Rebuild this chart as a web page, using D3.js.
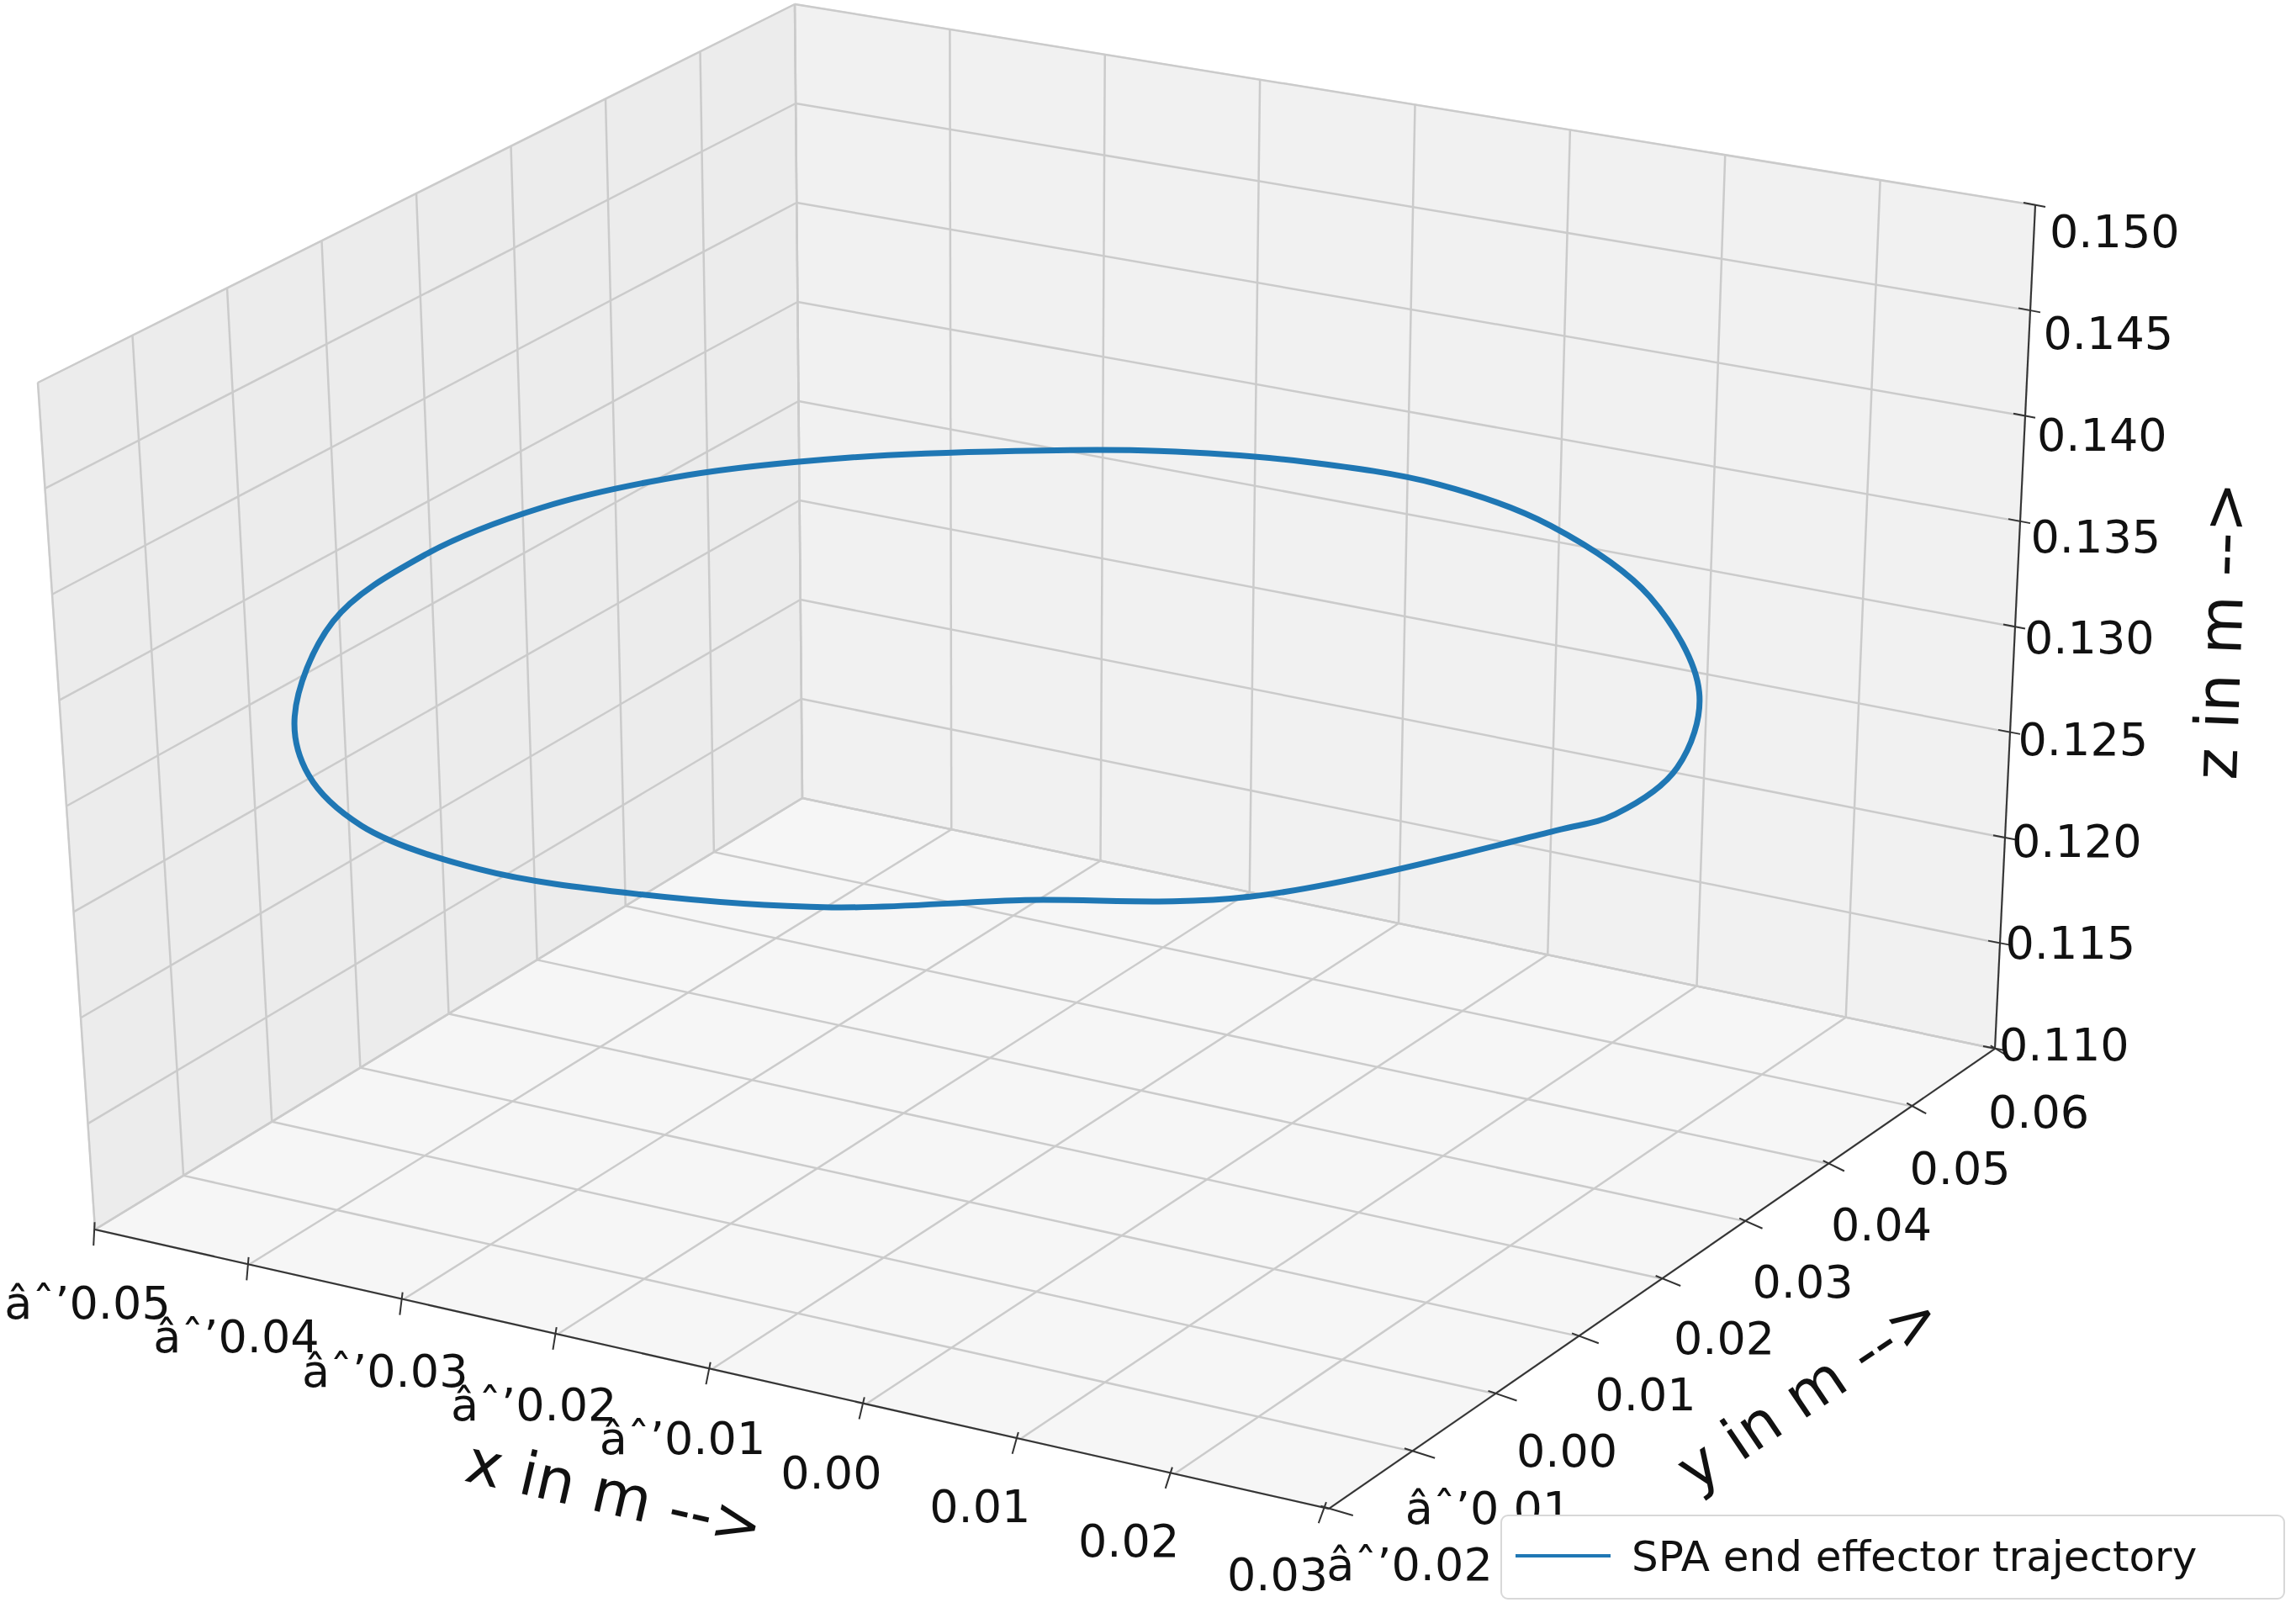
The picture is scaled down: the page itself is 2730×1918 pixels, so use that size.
<html>
  <head>
    <script src="https://d3js.org/d3.v7.min.js"></script>
    <style>
      body { margin: 0; background: white; }
      text { font-family: "DejaVu Sans", sans-serif; fill: #111; }
    </style>
  </head>
  <body>
    <script type="text/javascript">
      // trajectory samples (metres), z roughly constant
      var trajX = [-0.0469, -0.0532, -0.0546, -0.0531, -0.0489, -0.0427, -0.0349, -0.0278, -0.0195, -0.0109,
                   -0.0018, 0.0091, 0.0193, 0.0242, 0.0248, 0.0232, 0.0134, 0.0026, -0.0058, -0.0159,
                   -0.0255, -0.0346, -0.0413, -0.0469];
      var trajY = [-0.0004, 0.0146, 0.0269, 0.0372, 0.0460, 0.0529, 0.0586, 0.0625, 0.0649, 0.0652,
                   0.0622, 0.0545, 0.0420, 0.0305, 0.0221, 0.0182, 0.0001, -0.0068, -0.0131, -0.0166,
                   -0.0175, -0.0145, -0.0086, -0.0004];
      var trajZ = [0.130, 0.130, 0.130, 0.130, 0.130, 0.130, 0.130, 0.130, 0.130, 0.130,
                   0.130, 0.130, 0.130, 0.130, 0.130, 0.130, 0.130, 0.130, 0.130, 0.130,
                   0.130, 0.130, 0.130, 0.130];

      var xTicks = [-0.05, -0.04, -0.03, -0.02, -0.01, 0.00, 0.01, 0.02, 0.03];
      var yTicks = [-0.02, -0.01, 0.00, 0.01, 0.02, 0.03, 0.04, 0.05, 0.06];
      var zTicks = [0.110, 0.115, 0.120, 0.125, 0.130, 0.135, 0.140, 0.145, 0.150];
      var legendLabel = "SPA end effector trajectory";

      var width = 2730, height = 1918;
      var svg = d3.select("body").append("svg")
        .attr("width", width)
        .attr("height", height);

      // box corners on screen: ground (z min) and top (z max)
      var groundC = { A: [113, 1462], B: [1580, 1794], C: [2372, 1247], D: [954, 949] };
      var topC = { A: [45, 455], B: [1612, 714], C: [2420, 244], D: [945, 5] };

      var u = d3.scaleLinear().domain([-0.05, 0.03]).range([0, 1]);
      var v = d3.scaleLinear().domain([-0.02, 0.06]).range([0, 1]);
      var t = d3.scaleLinear().domain([0.11, 0.15]).range([0, 1]);

      function bilinear(c, a, b) {
        // A=(0,0) B=(1,0) C=(1,1) D=(0,1)
        return [0, 1].map(function (k) {
          return (1 - a) * (1 - b) * c.A[k] + a * (1 - b) * c.B[k] + a * b * c.C[k] + (1 - a) * b * c.D[k];
        });
      }
      function proj(x, y, z) {
        var a = u(x), b = v(y), s = t(z);
        var g = bilinear(groundC, a, b), h = bilinear(topC, a, b);
        return [g[0] + (h[0] - g[0]) * s, g[1] + (h[1] - g[1]) * s];
      }

      var line = d3.line();
      var x0 = -0.05, x1 = 0.03, y0 = -0.02, y1 = 0.06, z0 = 0.11, z1 = 0.15;

      // panes
      function pane(pts, fill) {
        svg.append("path")
          .attr("d", line(pts.map(function (p) { return proj(p[0], p[1], p[2]); })) + "Z")
          .attr("fill", fill)
          .attr("stroke", "#e4e4e4")
          .attr("stroke-width", 2);
      }
      pane([[x0, y0, z0], [x0, y1, z0], [x0, y1, z1], [x0, y0, z1]], "#ececec");
      pane([[x0, y1, z0], [x1, y1, z0], [x1, y1, z1], [x0, y1, z1]], "#f1f1f1");
      pane([[x0, y0, z0], [x1, y0, z0], [x1, y1, z0], [x0, y1, z0]], "#f6f6f6");

      // grid lines
      var grid = svg.append("g")
        .attr("fill", "none")
        .attr("stroke", "#cbcbcb")
        .attr("stroke-width", 2.5);
      function gl(p, q) {
        grid.append("path").attr("d", line([proj(p[0], p[1], p[2]), proj(q[0], q[1], q[2])]));
      }
      xTicks.forEach(function (x) {
        gl([x, y0, z0], [x, y1, z0]);
        gl([x, y1, z0], [x, y1, z1]);
      });
      yTicks.forEach(function (y) {
        gl([x0, y, z0], [x1, y, z0]);
        gl([x0, y, z0], [x0, y, z1]);
      });
      zTicks.forEach(function (z) {
        gl([x0, y0, z], [x0, y1, z]);
        gl([x0, y1, z], [x1, y1, z]);
      });

      // trajectory
      var pts = trajX.map(function (x, i) { return proj(x, trajY[i], trajZ[i]); });
      svg.append("path")
        .attr("d", d3.line().curve(d3.curveCatmullRomClosed)(pts.slice(0, pts.length - 1)))
        .attr("fill", "none")
        .attr("stroke", "#1f77b4")
        .attr("stroke-width", 7)
        .attr("stroke-linejoin", "round");

      // axis lines
      var axes = svg.append("g").attr("stroke", "#333").attr("stroke-width", 2).attr("fill", "none");
      axes.append("path").attr("d", line([proj(x0, y0, z0), proj(x1, y0, z0)]));
      axes.append("path").attr("d", line([proj(x1, y0, z0), proj(x1, y1, z0)]));
      axes.append("path").attr("d", line([proj(x1, y1, z0), proj(x1, y1, z1)]));

      var fs = 54;
      function fmt(d) { return d3.format(".2f")(d).replace("-", "\u2212"); }

      // x ticks
      xTicks.forEach(function (x, i) {
        var f = i / (xTicks.length - 1);
        var e = proj(x, y0, z0);
        var off = [-9 - 52 * f, 87 - 9 * f];
        axes.append("path").attr("d", line([[e[0] + off[0] * 0.05, e[1] - off[1] * 0.1], [e[0] + off[0] * 0.2, e[1] + off[1] * 0.22]]));
        svg.append("text").attr("x", e[0] + off[0]).attr("y", e[1] + off[1])
          .attr("text-anchor", "middle").attr("dy", "0.35em")
          .attr("font-size", fs).text(fmt(x));
      });
      // y ticks
      yTicks.forEach(function (y, i) {
        var f = i / (yTicks.length - 1);
        var e = proj(x1, y, z0);
        var off = [96 - 44 * f, 66 + 9 * f];
        axes.append("path").attr("d", line([[e[0] - off[0] * 0.1, e[1] - off[1] * 0.05], [e[0] + off[0] * 0.3, e[1] + off[1] * 0.12]]));
        svg.append("text").attr("x", e[0] + off[0]).attr("y", e[1] + off[1])
          .attr("text-anchor", "middle").attr("dy", "0.35em")
          .attr("font-size", fs).text(fmt(y));
      });
      // z ticks
      zTicks.forEach(function (z, i) {
        var f = i / (zTicks.length - 1);
        var e = proj(x1, y1, z);
        axes.append("path").attr("d", line([[e[0] - 14, e[1] - 3], [e[0] + 12, e[1] + 2]]));
        svg.append("text").attr("x", e[0] + 5 + 12 * f).attr("y", e[1] - 5 + 36 * f)
          .attr("dy", "0.35em")
          .attr("font-size", fs).text(d3.format(".3f")(z));
      });

      // axis labels
      svg.append("text").attr("transform", "translate(731,1776) rotate(13)")
        .attr("text-anchor", "middle").attr("dy", "0.35em").attr("font-size", 72).text("x in m -->");
      svg.append("text").attr("transform", "translate(2150,1654) rotate(-34)")
        .attr("text-anchor", "middle").attr("dy", "0.35em").attr("font-size", 72).text("y in m -->");
      svg.append("text").attr("transform", "translate(2640,750) rotate(-88)")
        .attr("text-anchor", "middle").attr("dy", "0.35em").attr("font-size", 72).text("z in m -->");

      // legend
      var legend = svg.append("g");
      legend.append("rect")
        .attr("x", 1785).attr("y", 1802).attr("width", 931).attr("height", 99).attr("rx", 8)
        .attr("fill", "white").attr("stroke", "#d8d8d8").attr("stroke-width", 2);
      legend.append("line")
        .attr("x1", 1802).attr("x2", 1915).attr("y1", 1850).attr("y2", 1850)
        .attr("stroke", "#1f77b4").attr("stroke-width", 4);
      legend.append("text").attr("x", 1940).attr("y", 1850).attr("dy", "0.35em")
        .attr("font-size", 50).text(legendLabel);
    </script>
  </body>
</html>
